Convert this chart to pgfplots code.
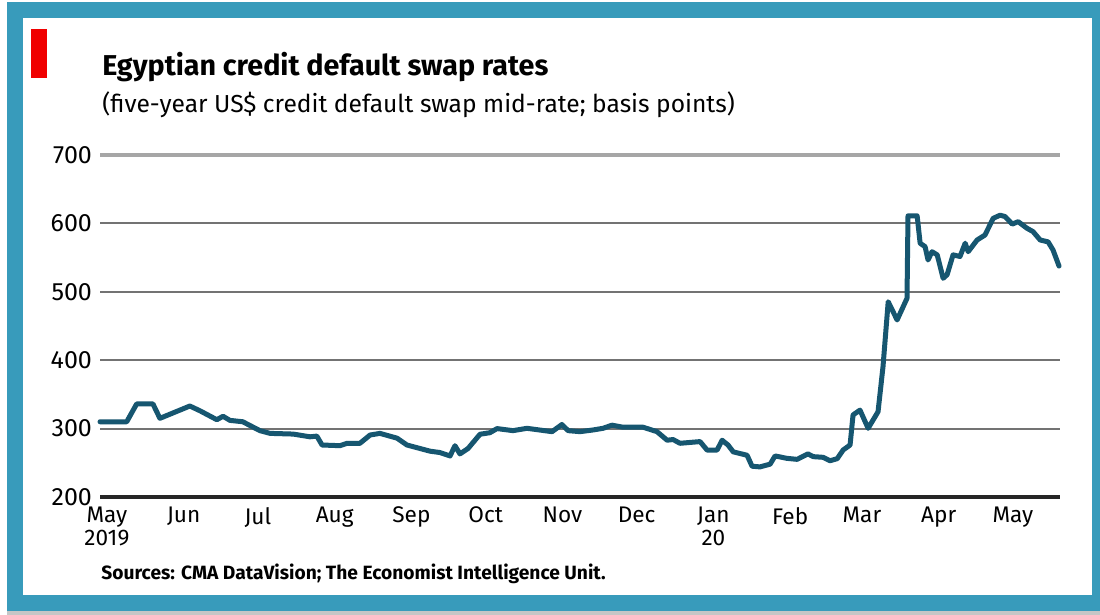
\documentclass[border=0pt]{standalone}
\usepackage{pgfplots}
\pgfplotsset{compat=1.18}
\usepackage{fontspec}
\setmainfont{Fira Sans}
\definecolor{frameteal}{RGB}{56,155,187}
\definecolor{linecol}{RGB}{22,86,112}
\definecolor{ecored}{RGB}{240,0,0}
\begin{document}
\begin{tikzpicture}
% background and frame
\fill[white] (0pt,0pt) rectangle (550pt,307.5pt);
\fill[gray!45] (3.5pt,0pt) rectangle (550pt,2.5pt);
\fill[frameteal] (3.5pt,2pt) rectangle (550pt,306.5pt);
\fill[white] (11.5pt,10pt) rectangle (546pt,298.5pt);
\fill[ecored] (15.5pt,268.5pt) rectangle (23.5pt,293pt);
% titles
\node[anchor=base west, inner sep=0pt, font=\fontsize{14.35}{16}\selectfont\bfseries] at (51pt,269.5pt) {Egyptian credit default swap rates};
\node[anchor=base west, inner sep=0pt, font=\fontsize{12.3}{14}\selectfont] at (51pt,251pt) {(five-year US\$ credit default swap mid-rate; basis points)};
\node[anchor=base west, inner sep=0pt, font=\fontsize{9.6}{11}\selectfont\bfseries] at (50.5pt,17.5pt) {Sources: CMA DataVision; The Economist Intelligence Unit.};
\begin{axis}[
  at={(50pt,59pt)}, anchor=south west,
  scale only axis, width=480pt, height=171pt,
  xmin=-2.8, xmax=385, ymin=200, ymax=700,
  clip=false,
  axis line style={draw=none},
  tick style={draw=none},
  ytick={200,300,400,500,600,700},
  ymajorgrids,
  major grid style={draw=black!55, line width=1pt},
  xtick={0,31,61,92,123,153,184,214,245,276,305,336,366},
  xticklabels={May\\2019,Jun,Jul,Aug,Sep,Oct,Nov,Dec,Jan\\20,Feb,Mar,Apr,May},
  xticklabel style={align=center, font=\fontsize{11.3}{11.5}\selectfont, anchor=north, yshift=-1.5pt},
  yticklabel style={font=\fontsize{12.5}{13}\selectfont, anchor=east, xshift=-0.5pt},
  /pgf/number format/assume math mode=true,
]
\draw[black!35, line width=1.6pt] (axis cs:-2.8,700) -- (axis cs:385,700);
\addplot[linecol, line width=2.5pt, line join=round, line cap=round, mark=none] coordinates {
(-2.8,310) (8,310) (12,336) (18.6,336) (21.4,315) (33.5,333) (37.6,326) (44.4,313) (46.9,318) (49.7,312) (54.9,310) (57,306) (61.8,297) (65.9,293) (75.2,292) (82,288) (84.8,289) (86.9,276) (94.1,275) (97,278.5) (102.2,278.5) (106.3,290.6) (110.3,293) (117.2,286) (121.2,276) (130.5,267) (134.5,265) (138.6,260) (140.6,275) (142.6,263) (145.9,271) (150.7,291.7) (154.7,294) (157.6,300)
(164,297) (169.7,300.4) (179.8,295.5) (183.8,306) (186.3,297) (191.1,295.5) (196.4,298) (200.4,300.4) (204,305) (208.5,302) (216.6,302) (222.2,295.5) (226.3,283) (228.7,284) (231.5,278.5) (239.6,281) (242.4,268.7) (246.5,268.7) (248.5,283) (250.9,276) (253,266) (258.6,261) (260.6,245) (263.8,244) (267.9,248) (269.9,260) (274.7,256.5) (278.8,255) (283.2,263) (285.3,259) (289.3,258) (292.1,253) (295,256) (297.4,268.7) (300.2,276) (301.4,320) (304.2,327) (307.5,300.4) (311.5,324.7) (313.5,390.5) (315.6,485.5) (319.2,458.8) (323.2,490.5) (323.6,611) (327.3,611) (328.5,571) (330.5,566) (331.7,546.5) (333.3,558.6) (335.4,554) (337.8,519.7) (339.4,525) (341.8,554) (344.6,551.6) (346.7,571) (347.9,558.6) (351.5,575.7) (354.7,583) (358,607.4) (360.8,612) (362.8,610) (365.7,599) (368.1,602.5) (371.7,592.8) (374.1,588) (377,575.7) (380.2,573) (382.2,561) (384.6,537.7)
};
\draw[black!85, line width=1.6pt] (axis cs:-2.8,200) -- (axis cs:385,200);
\end{axis}
\end{tikzpicture}
\end{document}
